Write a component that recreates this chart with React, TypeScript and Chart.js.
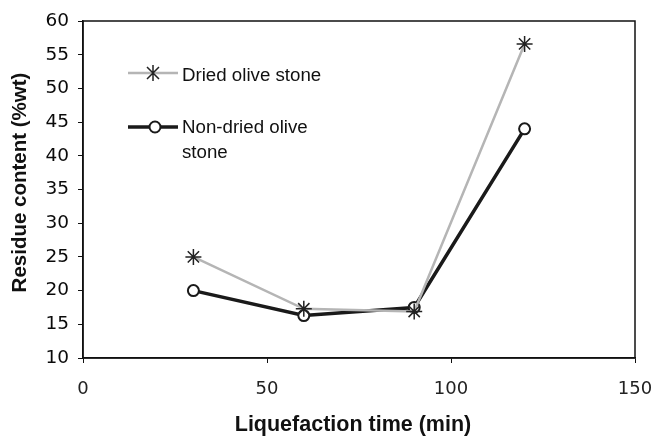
import React, { useEffect, useRef } from "react";
import { Chart, registerables } from "chart.js";

Chart.register(...registerables);

const times = [30, 60, 90, 120];
const driedValues = [25, 17.3, 16.9, 56.6];
const nonDriedValues = [20, 16.3, 17.5, 44];
const xTickValues = [0, 50, 100, 150];
const yMin = 10;
const yMax = 60;
const seriesNames = ["Dried olive stone", "Non-dried olive stone"];
const legendLines = [["Dried olive stone"], ["Non-dried olive", "stone"]];
const xTitle = "Liquefaction time (min)";
const yTitle = "Residue content (%wt)";

const FONT = "'Liberation Sans', Arial, sans-serif";
const TICKFONT = "'DejaVu Sans', sans-serif";

function drawStar(ctx: CanvasRenderingContext2D, x: number, y: number, r: number, color: string) {
  ctx.save();
  ctx.strokeStyle = color;
  ctx.lineWidth = 1.5;
  ctx.beginPath();
  ctx.moveTo(x, y - r);
  ctx.lineTo(x, y + r);
  const d = r * 0.75;
  ctx.moveTo(x - d, y - d);
  ctx.lineTo(x + d, y + d);
  ctx.moveTo(x - d, y + d);
  ctx.lineTo(x + d, y - d);
  ctx.stroke();
  ctx.restore();
}

const framePlugin = {
  id: "frame",
  afterDraw(chart: any) {
    const { ctx, chartArea } = chart;
    ctx.save();
    ctx.strokeStyle = "#111";
    ctx.lineWidth = 1.5;
    ctx.strokeRect(chartArea.left, chartArea.top, chartArea.right - chartArea.left, chartArea.bottom - chartArea.top);

    // legend
    const lx0 = 128, lx1 = 178;
    const y1 = 73;
    ctx.strokeStyle = "#b5b5b5";
    ctx.lineWidth = 2.5;
    ctx.beginPath();
    ctx.moveTo(lx0, y1);
    ctx.lineTo(lx1, y1);
    ctx.stroke();
    drawStar(ctx, 153, y1, 8, "#222");
    const y2 = 127;
    ctx.strokeStyle = "#1a1a1a";
    ctx.lineWidth = 3.5;
    ctx.beginPath();
    ctx.moveTo(lx0, y2);
    ctx.lineTo(lx1, y2);
    ctx.stroke();
    ctx.beginPath();
    ctx.fillStyle = "#fff";
    ctx.lineWidth = 2;
    ctx.arc(155, y2, 5.5, 0, Math.PI * 2);
    ctx.fill();
    ctx.stroke();

    ctx.fillStyle = "#111";
    ctx.font = `18.7px ${FONT}`;
    ctx.textBaseline = "middle";
    ctx.textAlign = "left";
    ctx.fillText(legendLines[0][0], 182, 76);
    ctx.fillText(legendLines[1][0], 182, 128);
    ctx.fillText(legendLines[1][1], 182, 153);

    // axis titles
    ctx.textAlign = "center";
    ctx.font = `bold 21.5px ${FONT}`;
    ctx.fillText(xTitle, 353, 425);
    ctx.translate(20, 182.5);
    ctx.rotate(-Math.PI / 2);
    ctx.font = `bold 20.5px ${FONT}`;
    ctx.fillText(yTitle, 0, 0);
    ctx.restore();
  },
};

export default function App() {
  const ref = useRef<HTMLCanvasElement | null>(null);
  useEffect(() => {
    document.body.style.margin = "0";
    const canvas = ref.current;
    if (!canvas) return;
    const chart = new Chart(canvas, {
      type: "line",
      data: {
        datasets: [
          {
            label: seriesNames[0],
            data: times.map((t, i) => ({ x: t, y: driedValues[i] })),
            borderColor: "#b5b5b5",
            borderWidth: 2.5,
            pointStyle: "star",
            pointRadius: 8,
            pointBorderColor: "#222",
            pointBackgroundColor: "#222",
            pointBorderWidth: 1.5,
            tension: 0,
          },
          {
            label: seriesNames[1],
            data: times.map((t, i) => ({ x: t, y: nonDriedValues[i] })),
            borderColor: "#1a1a1a",
            borderWidth: 3.5,
            pointStyle: "circle",
            pointRadius: 5.5,
            pointBorderColor: "#1a1a1a",
            pointBackgroundColor: "#fff",
            pointBorderWidth: 2,
            tension: 0,
          },
        ],
      },
      options: {
        responsive: false,
        animation: false,
        layout: { padding: { top: 21, right: 18, left: 0, bottom: 0 } },
        plugins: { legend: { display: false }, tooltip: { enabled: false } },
        scales: {
          x: {
            type: "linear",
            min: 0,
            max: 150,
            afterBuildTicks: (s: any) => {
              s.ticks = xTickValues.map((v) => ({ value: v }));
            },
            afterFit: (s: any) => {
              s.height = 78;
              s.paddingLeft = 0;
              s.paddingRight = 0;
            },
            ticks: {
              color: "#222",
              font: { size: 18, family: TICKFONT },
              padding: 16,
            },
            grid: { display: true, drawOnChartArea: false, drawTicks: true, tickLength: 5, color: "#111", lineWidth: 1 },
            border: { display: true, color: "#111", width: 1.5 },
          },
          y: {
            type: "linear",
            min: yMin,
            max: yMax,
            ticks: {
              stepSize: 5,
              color: "#0a0a0a",
              font: { size: 18.5, family: TICKFONT },
              padding: 9,
            },
            afterFit: (s: any) => {
              s.width = 83;
            },
            grid: { display: true, drawOnChartArea: false, drawTicks: true, tickLength: 5, color: "#111", lineWidth: 1 },
            border: { display: true, color: "#111", width: 1.5 },
          },
        },
      },
      plugins: [framePlugin],
    });
    return () => chart.destroy();
  }, []);
  return (
    <div style={{ width: 653, height: 436, background: "#fff" }}>
      <canvas ref={ref} width={653} height={436} style={{ width: 653, height: 436, display: "block" }} />
    </div>
  );
}
